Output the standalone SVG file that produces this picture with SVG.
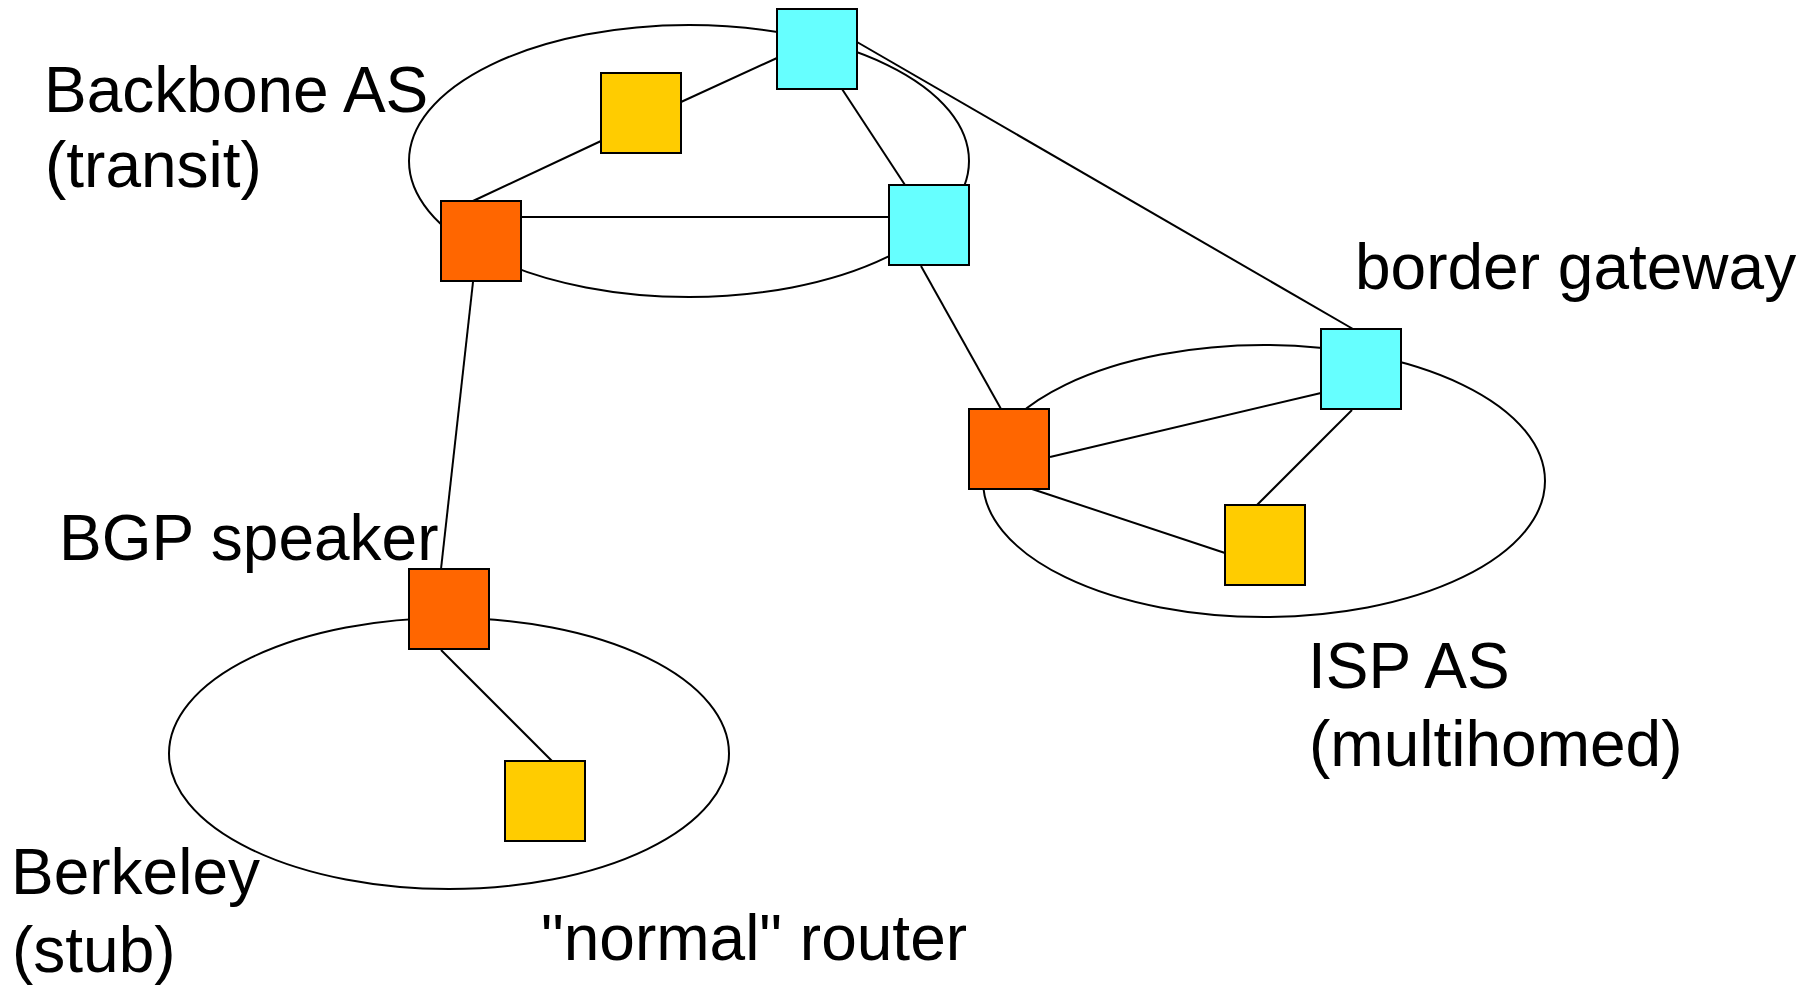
<svg xmlns="http://www.w3.org/2000/svg" width="1820" height="986" viewBox="0 0 1820 986">
<style>
.as{fill:none;stroke:#000;stroke-width:2}
.ln{stroke:#000;stroke-width:2;fill:none}
.node{stroke:#000;stroke-width:2}
.bgp{fill:#FF6600}
.gw{fill:#66FFFF}
.rt{fill:#FFCC00}
.lbl{font-family:"Liberation Sans",Arial,sans-serif;font-size:64px;fill:#000}
</style>
<rect width="1820" height="986" fill="#fff"/>
<g id="areas">
<ellipse id="backbone-as" class="as" cx="689" cy="161" rx="280" ry="136"/>
<ellipse id="isp-as" class="as" cx="1264" cy="481" rx="281" ry="136"/>
<ellipse id="berkeley-as" class="as" cx="449" cy="753.5" rx="280" ry="135.5"/>
</g>
<g id="connectors">
<line class="ln" x1="473" y1="201" x2="601" y2="141"/>
<line class="ln" x1="681" y1="102" x2="777" y2="58"/>
<line class="ln" x1="521" y1="217" x2="889" y2="217"/>
<line class="ln" x1="842" y1="89" x2="905" y2="185"/>
<line class="ln" x1="857" y1="42" x2="1353" y2="329"/>
<line class="ln" x1="921" y1="266" x2="1001" y2="409"/>
<line class="ln" x1="473" y1="282" x2="441" y2="569"/>
<line class="ln" x1="1050" y1="457" x2="1321" y2="393"/>
<line class="ln" x1="1352" y1="410" x2="1257" y2="505"/>
<line class="ln" x1="1032" y1="489" x2="1225" y2="553"/>
<line class="ln" x1="441" y1="650" x2="552" y2="761"/>
</g>
<g id="n-bb-bgp"><rect class="node bgp" x="441" y="201" width="80" height="80"/></g>
<g id="n-bb-router"><rect class="node rt" x="601" y="73" width="80" height="80"/></g>
<g id="n-bb-gw-top"><rect class="node gw" x="777" y="9" width="80" height="80"/></g>
<g id="n-bb-gw-right"><rect class="node gw" x="889" y="185" width="80" height="80"/></g>
<g id="n-isp-gw"><rect class="node gw" x="1321" y="329" width="80" height="80"/></g>
<g id="n-isp-bgp"><rect class="node bgp" x="969" y="409" width="80" height="80"/></g>
<g id="n-isp-router"><rect class="node rt" x="1225" y="505" width="80" height="80"/></g>
<g id="n-berk-bgp"><rect class="node bgp" x="409" y="569" width="80" height="80"/></g>
<g id="n-berk-router"><rect class="node rt" x="505" y="761" width="80" height="80"/></g>
<g id="labels">
<text class="lbl" x="44" y="112">Backbone AS</text>
<text class="lbl" x="45" y="187">(transit)</text>
<text class="lbl" x="1355" y="289">border gateway</text>
<text class="lbl" x="59" y="560">BGP speaker</text>
<text class="lbl" x="1308" y="688">ISP AS</text>
<text class="lbl" x="1309" y="766">(multihomed)</text>
<text class="lbl" x="11" y="894">Berkeley</text>
<text class="lbl" x="12" y="972">(stub)</text>
<text class="lbl" x="541" y="960">"normal" router</text>
</g>
</svg>
